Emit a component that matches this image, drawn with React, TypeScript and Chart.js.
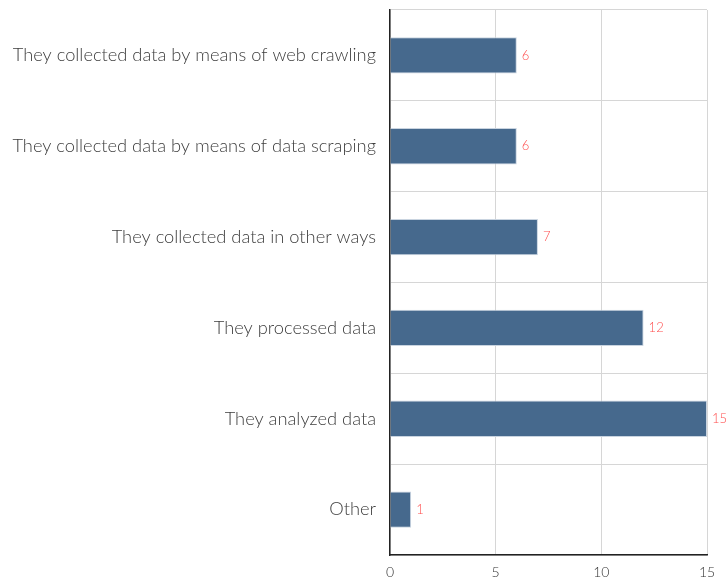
import React, { useEffect, useRef } from "react";
import { Chart, registerables } from "chart.js";

Chart.register(...registerables);

const categories = [
  "They collected data by means of web crawling",
  "They collected data by means of data scraping",
  "They collected data in other ways",
  "They processed data",
  "They analyzed data",
  "Other",
];
const values = [6, 6, 7, 12, 15, 1];
const xTicks = [0, 5, 10, 15];

const FONT = "Lato";

const valueLabels = {
  id: "valueLabels",
  afterDatasetsDraw(chart: any) {
    const ctx = chart.ctx;
    const meta = chart.getDatasetMeta(0);
    ctx.save();
    ctx.fillStyle = "#ff4d4d";
    ctx.font = `300 13px ${FONT}`;
    ctx.textAlign = "left";
    ctx.textBaseline = "middle";
    meta.data.forEach((bar: any, i: number) => {
      ctx.fillText(String(values[i]), bar.x + 5, bar.y);
    });
    ctx.restore();
  },
};

export default function App() {
  const ref = useRef<HTMLCanvasElement>(null);
  useEffect(() => {
    document.body.style.margin = "0";
    const chart = new Chart(ref.current!, {
      type: "bar",
      data: {
        labels: categories,
        datasets: [
          {
            data: values,
            backgroundColor: "#46698d",
            borderColor: "#c9d4e0",
            borderWidth: 1,
            barPercentage: 0.8,
            categoryPercentage: 0.5,
          },
        ],
      },
      options: {
        indexAxis: "y",
        animation: false,
        responsive: false,
        maintainAspectRatio: false,
        layout: { padding: { top: 10, right: 19, left: 0, bottom: 0 } },
        plugins: { legend: { display: false }, tooltip: { enabled: false } },
        scales: {
          x: {
            min: 0,
            max: 15,
            afterBuildTicks: (s: any) => {
              s.ticks = xTicks.map((v) => ({ value: v }));
            },
            afterFit: (s: any) => {
              s.height = 22;
              s.paddingLeft = 0;
              s.paddingRight = 0;
            },
            grid: { color: "#d6d6d6", drawTicks: false },
            border: { color: "#222", width: 1.5 },
            ticks: {
              padding: 9,
              color: "#333",
              font: { family: FONT, size: 14, weight: "300" },
            },
          },
          y: {
            afterFit: (s: any) => {
              s.width = 390;
              s.paddingTop = 0;
              s.paddingBottom = 0;
            },
            grid: { color: "#d6d6d6", drawTicks: false, offset: true },
            border: { color: "#222", width: 1.5 },
            ticks: {
              padding: 14,
              color: "#3d3d3d",
              font: { family: FONT, size: 18.3, weight: "300" },
            },
          },
        },
      },
      plugins: [valueLabels],
    });
    return () => chart.destroy();
  }, []);
  return (
    <div style={{ width: 726, height: 577 }}>
      <canvas ref={ref} width={726} height={577} />
    </div>
  );
}
